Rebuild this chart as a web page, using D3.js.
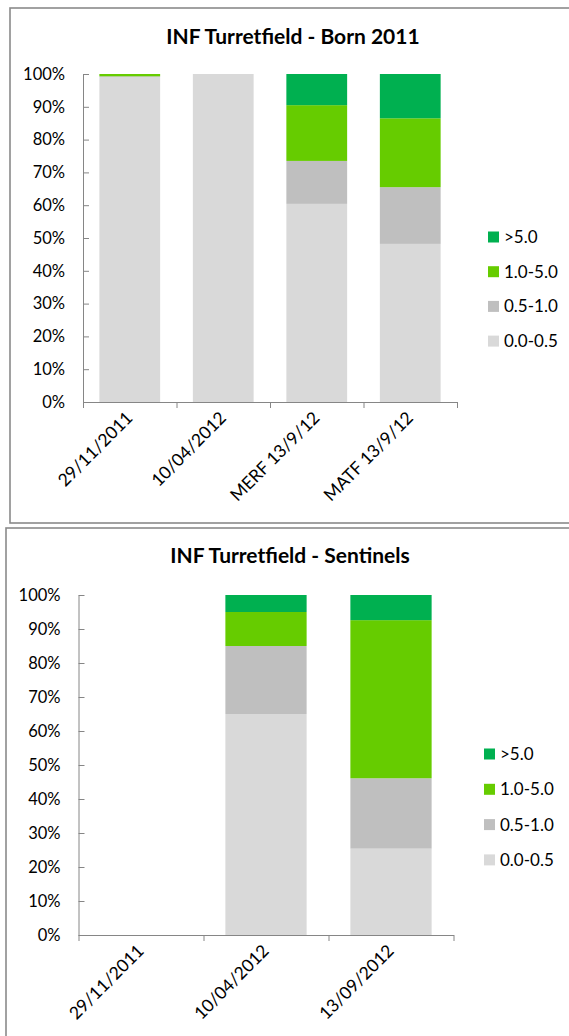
<!DOCTYPE html>
<html>
<head>
<meta charset="utf-8">
<script src="https://cdn.jsdelivr.net/npm/d3@7"></script>
<style>
  html, body { margin: 0; padding: 0; background: #fff; }
  svg { display: block; font-family: Lato, "Open Sans", sans-serif; }
</style>
</head>
<body>
<div id="charts"></div>
<script>
// Size classes, bottom of the stack first
const sizeClasses = ["0.0-0.5", "0.5-1.0", "1.0-5.0", ">5.0"];
const classColors = ["#d9d9d9", "#bfbfbf", "#66cc00", "#00b050"];

// Born 2011 group (% of samples per class)
const bornDates = ["29/11/2011", "10/04/2012", "MERF 13/9/12", "MATF 13/9/12"];
const born00to05 = [99.0, 100, 60.4, 48.2];
const born05to10 = [0.3, 0, 13.1, 17.3];
const born10to50 = [0.7, 0, 17.0, 21.0];
const bornOver50 = [0, 0, 9.5, 13.5];

// Sentinel group
const sentDates = ["29/11/2011", "10/04/2012", "13/09/2012"];
const sent00to05 = [0, 65, 25.4];
const sent05to10 = [0, 20, 20.7];
const sent10to50 = [0, 10, 46.5];
const sentOver50 = [0, 5, 7.4];

const yTicks = [0, 10, 20, 30, 40, 50, 60, 70, 80, 90, 100];

const svg = d3.select("#charts").append("svg")
    .attr("width", 569)
    .attr("height", 1036);

function drawChart(cfg) {
  const rows = cfg.dates.map((d, i) => {
    const r = {date: d};
    cfg.values.forEach((vals, k) => { r[sizeClasses[k]] = vals[i]; });
    return r;
  });

  // frame
  svg.append("rect")
      .attr("x", cfg.frame[0]).attr("y", cfg.frame[1])
      .attr("width", 600).attr("height", cfg.frame[2])
      .attr("fill", "none")
      .attr("stroke", "#8a8a8a")
      .attr("stroke-width", 1.6);

  svg.append("text")
      .attr("x", cfg.titleX).attr("y", cfg.titleY)
      .attr("text-anchor", "middle")
      .attr("font-size", 21)
      .attr("font-weight", "bold")
      .attr("fill", "#000")
      .text(cfg.title);

  const g = svg.append("g")
      .attr("transform", `translate(${cfg.left},${cfg.top})`);

  const x = d3.scaleBand()
      .domain(cfg.dates)
      .range([0, cfg.width])
      .paddingInner(0.35)
      .paddingOuter(0.175);

  const y = d3.scaleLinear()
      .domain([0, 100])
      .range([cfg.height, 0]);

  const stacked = d3.stack().keys(sizeClasses)(rows);

  g.selectAll(".layer")
      .data(stacked)
      .enter().append("g")
      .attr("fill", (d, i) => classColors[i])
      .selectAll("rect")
      .data(d => d)
      .enter().append("rect")
      .attr("x", d => x(d.data.date))
      .attr("width", x.bandwidth())
      .attr("y", d => y(d[1]))
      .attr("height", d => y(d[0]) - y(d[1]));

  // y axis, ticks pointing inward
  const yAxis = g.append("g")
      .call(d3.axisLeft(y)
        .tickValues(yTicks)
        .tickFormat(d => d + "%")
        .tickSizeInner(-6)
        .tickSizeOuter(0)
        .tickPadding(18));
  yAxis.selectAll("text")
      .attr("font-size", 16.5)
      .attr("font-family", "Lato, sans-serif")
      .attr("fill", "#000");

  // x axis with ticks between categories
  const xEdge = d3.scaleLinear()
      .domain([0, cfg.dates.length])
      .range([0, cfg.width]);
  g.append("g")
      .attr("transform", `translate(0,${cfg.height})`)
      .call(d3.axisBottom(xEdge)
        .tickValues(d3.range(cfg.dates.length + 1))
        .tickFormat("")
        .tickSizeInner(6)
        .tickSizeOuter(0));

  g.selectAll(".domain, .tick line")
      .attr("stroke", "#868686");

  g.selectAll(".xlab")
      .data(cfg.dates)
      .enter().append("text")
      .attr("class", "xlab")
      .attr("text-anchor", "end")
      .attr("font-size", 17.5)
      .attr("fill", "#000")
      .attr("transform", d =>
        `translate(${x(d) + x.bandwidth() / 2 + 4},${cfg.height + 17}) rotate(-45)`)
      .text(d => d);

  // legend, top entry is the top of the stack
  const legend = svg.append("g")
      .attr("transform", `translate(${cfg.legendX},${cfg.legendY})`);
  const order = sizeClasses.slice().reverse();
  order.forEach((name, i) => {
    const k = sizeClasses.indexOf(name);
    const row = legend.append("g")
        .attr("transform", `translate(0,${i * cfg.legendStep})`);
    row.append("rect")
        .attr("x", 0).attr("y", -5.5)
        .attr("width", 11).attr("height", 11)
        .attr("fill", classColors[k]);
    row.append("text")
        .attr("x", 16).attr("y", 6)
        .attr("font-size", 17)
        .attr("fill", "#000")
        .text(name);
  });
}

drawChart({
  title: "INF Turretfield - Born 2011",
  titleX: 293, titleY: 44,
  frame: [10, 8, 515],
  left: 83, top: 74, width: 374, height: 328,
  dates: bornDates,
  values: [born00to05, born05to10, born10to50, bornOver50],
  legendX: 488, legendY: 237, legendStep: 34.7
});

drawChart({
  title: "INF Turretfield - Sentinels",
  titleX: 290, titleY: 563,
  frame: [6, 528, 600],
  left: 78.5, top: 595, width: 375, height: 340,
  dates: sentDates,
  values: [sent00to05, sent05to10, sent10to50, sentOver50],
  legendX: 484, legendY: 754, legendStep: 35.3
});
</script>
</body>
</html>
